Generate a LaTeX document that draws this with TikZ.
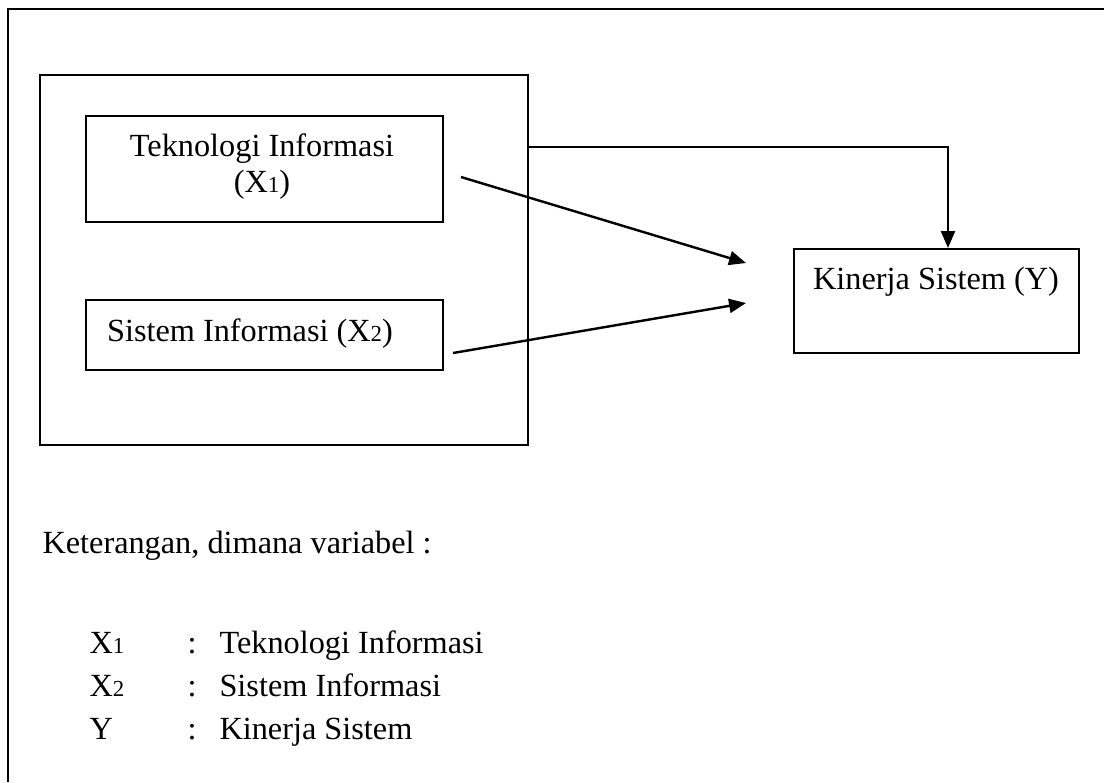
\documentclass[tikz,border=0pt]{standalone}
\usepackage{fontspec}
\setmainfont{Liberation Serif}
\usetikzlibrary{arrows.meta,fit}
\newcommand{\subangka}[1]{{\fontsize{8.5}{10}\selectfont #1}}

\begin{document}
\begin{tikzpicture}[x=0.01306cm,y=-0.01306cm,
        font=\fontsize{12}{13.4}\selectfont,
        kotak/.style={draw,line width=0.75pt,inner sep=0pt},
        teks/.style={inner sep=0pt,anchor=base},
        panah/.style={line width=0.9pt,-{Triangle[length=6.3pt,width=5.2pt]}}]
        \useasboundingbox (0,0) rectangle (1104,782);
        \draw[line width=0.8pt] (8,782) -- (8,9) -- (1104,9);

        \node[kotak,fit={(40,75) (528,445)}] (grup) {};
        \node[kotak,fit={(86,116) (443,222)}] (x1) {};
        \node[kotak,fit={(86,300) (443,370)}] (x2) {};
        \node[kotak,fit={(794,249) (1079,353)}] (kin) {};

        \node[teks,align=center,anchor=center] (tx1) at (262,167) {Teknologi Informasi\\(X\subangka{1})};
        \node[teks] (tx2) at (250,341) {Sistem Informasi (X\subangka{2})};
        \node[teks] (tkin) at (936,289) {Kinerja Sistem (Y)};

        \coordinate (s1) at (461,177); \coordinate (e1) at (746,263);
        \coordinate (s2) at (453,353); \coordinate (e2) at (746,303);
        \coordinate (s3) at (528,147);
        \draw[panah] (s1) -- (e1);
        \draw[panah] (s2) -- (e2);
        \draw[panah] (s3) -| ([xshift=0.15cm]kin.north);

        % keterangan
        \node[teks,anchor=base west] (ket) at (42,553) {Keterangan, dimana variabel :};
        \foreach \v/\arti [count=\i] in {X\subangka{1}/Teknologi Informasi,X\subangka{2}/Sistem Informasi,Y/Kinerja Sistem}{
          \node[teks,anchor=base west] (v\i) at (89,610+43*\i) {\v};
          \node[teks,anchor=base west] (c\i) at (187,610+43*\i) {:};
          \node[teks,anchor=base west] (a\i) at (219,610+43*\i) {\arti};
        }
\end{tikzpicture}
\end{document}
